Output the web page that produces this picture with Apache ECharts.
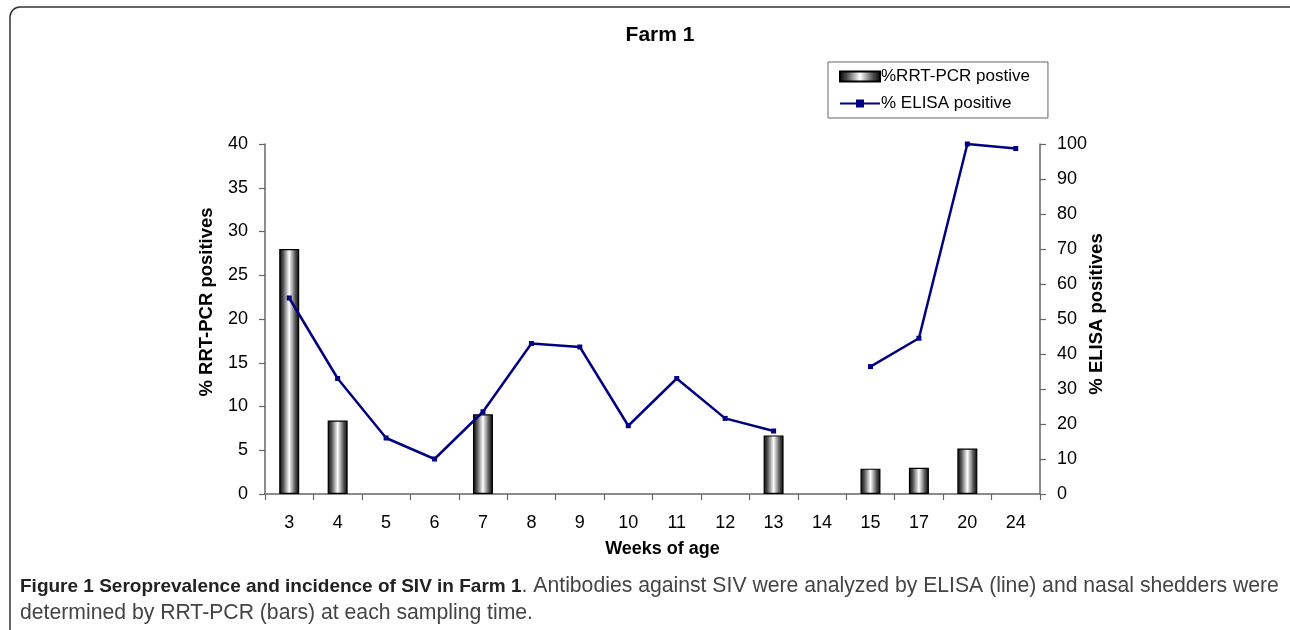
<!DOCTYPE html>
<html><head><meta charset="utf-8">
<script src="https://cdn.jsdelivr.net/npm/echarts@6/dist/echarts.min.js"></script>
<style>html,body{margin:0;padding:0;background:#fff}#c{width:1290px;height:630px}</style>
</head><body><div id="c"></div>
<script>
const weeks = ['3','4','5','6','7','8','9','10','11','12','13','14','15','17','20','24'];
const pcrPositive = [28, 8.4, null, null, 9.1, null, null, null, null, null, 6.7, null, 2.9, 3.0, 5.2, null];
const elisaPositive = [56, 33, 16, 10, 23.5, 43, 42, 19.5, 33, 21.6, 18, null, 36.4, 44.5, 100, 98.7];
const leftTicks = [0, 40, 5];
const rightTicks = [0, 100, 10];

const chart = echarts.init(document.getElementById('c'), null, {renderer: 'canvas'});
const barGrad = new echarts.graphic.LinearGradient(0, 0, 1, 0, [
  {offset: 0, color: '#000'}, {offset: 0.2, color: '#555'}, {offset: 0.5, color: '#fff'},
  {offset: 0.8, color: '#555'}, {offset: 1, color: '#000'}
]);
const font = 'Liberation Sans, Arial, sans-serif';
const axisStyle = {
  axisLine: {show: true, lineStyle: {color: '#666', width: 1.5}},
  axisTick: {show: true, length: 6, lineStyle: {color: '#666', width: 1.2}},
  splitLine: {show: false}
};
chart.setOption({
  animation: false,
  title: {text: 'Farm 1', left: 655, top: 20, textAlign: 'center',
    textStyle: {fontFamily: font, fontSize: 21, fontWeight: 'bold', color: '#000'}},
  legend: {
    orient: 'vertical', left: 828, top: 62, itemWidth: 40, itemHeight: 10, itemGap: 10,
    padding: [6, 18, 6, 11], borderColor: '#666', borderWidth: 1,
    textStyle: {fontFamily: font, fontSize: 17, color: '#000', padding: [0, 0, 0, -4]},
    data: [{name: '%RRT-PCR postive', icon: 'rect'}, {name: '% ELISA positive'}]
  },
  grid: {left: 265, right: 250, top: 144, bottom: 136},
  xAxis: Object.assign({
    type: 'category', data: weeks, name: 'Weeks of age', nameLocation: 'middle', nameGap: 46,
    nameTextStyle: {fontFamily: font, fontSize: 18, fontWeight: 'bold', color: '#000', padding: [0, 0, 0, 20]},
    axisLabel: {fontFamily: font, fontSize: 18, color: '#000', margin: 20}
  }, axisStyle),
  yAxis: [Object.assign({
    type: 'value', min: leftTicks[0], max: leftTicks[1], interval: leftTicks[2],
    axisLabel: {fontFamily: font, fontSize: 18, color: '#000', margin: 17}
  }, axisStyle), Object.assign({
    type: 'value', min: rightTicks[0], max: rightTicks[1], interval: rightTicks[2], position: 'right',
    axisLabel: {fontFamily: font, fontSize: 18, color: '#000', margin: 17}
  }, axisStyle)],
  series: [{
    name: '%RRT-PCR postive', type: 'bar', yAxisIndex: 0, data: pcrPositive, barWidth: 20,
    itemStyle: {color: barGrad, borderColor: '#000', borderWidth: 1.2}
  }, {
    name: '% ELISA positive', type: 'line', yAxisIndex: 1, data: elisaPositive,
    connectNulls: false, symbol: 'rect', symbolSize: 5, showAllSymbol: true,
    lineStyle: {color: '#000080', width: 2.5}, itemStyle: {color: '#000080'}
  }],
  graphic: [{
    type: 'rect', shape: {x: 10, y: 7, width: 1300, height: 650, r: 10},
    style: {fill: 'none', stroke: '#333', lineWidth: 1.5}, silent: true
  }, {
    type: 'text', x: 207, y: 302, rotation: Math.PI / 2, silent: true,
    style: {text: '% RRT-PCR positives', fontFamily: font, fontSize: 18.5, fontWeight: 'bold', fill: '#000', align: 'center', verticalAlign: 'middle'}
  }, {
    type: 'text', x: 1097, y: 314, rotation: Math.PI / 2, silent: true,
    style: {text: '% ELISA positives', fontFamily: font, fontSize: 18.5, fontWeight: 'bold', fill: '#000', align: 'center', verticalAlign: 'middle'}
  }, {
    type: 'text', left: 20, top: 573, silent: true,
    style: {
      text: '{b|Figure 1 Seroprevalence and incidence of SIV in Farm 1}{n|. Antibodies against SIV were analyzed by ELISA (line) and nasal shedders were}\n{n|determined by RRT-PCR (bars) at each sampling time.}',
      lineHeight: 27,
      rich: {
        b: {fontFamily: font, fontSize: 19, fontWeight: 'bold', fill: '#222'},
        n: {fontFamily: font, fontSize: 21.2, fill: '#444'}
      }
    }
  }]
});
</script></body></html>
